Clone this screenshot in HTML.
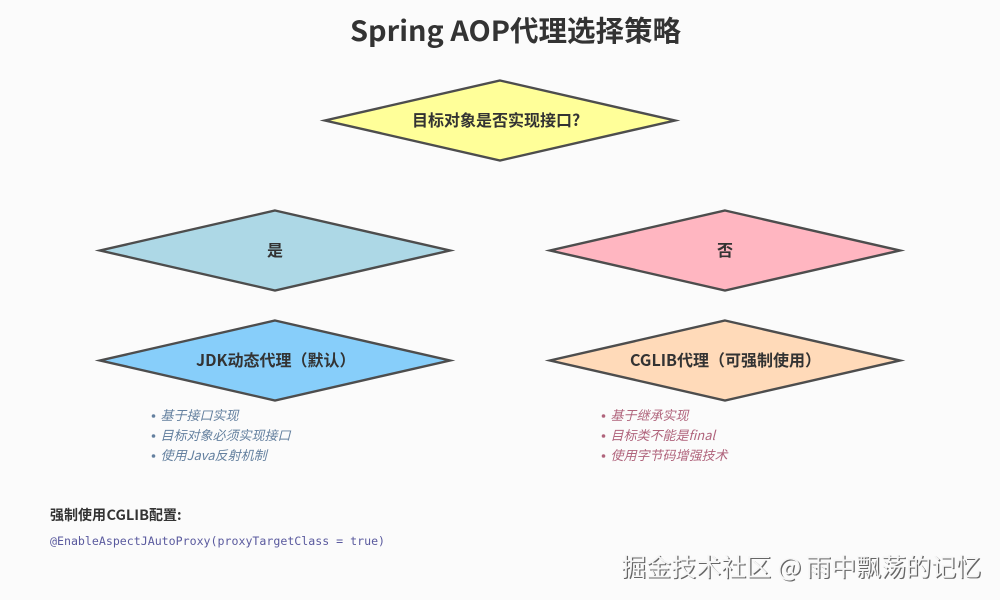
<!DOCTYPE html>
<html lang="zh">
<head>
<meta charset="utf-8">
<style>
html,body{margin:0;padding:0;background:#fbfbfb;}
svg{display:block;}
text{font-family:"Noto Sans CJK SC","Liberation Sans",sans-serif;}
.n{font-size:16px;font-weight:700;fill:#333;}
.l{font-size:13px;font-style:italic;}
.b{fill:#64809f;}.r{fill:#b0647c;}
.d{stroke:#4d4d4d;stroke-width:2.4;stroke-linejoin:miter;stroke-miterlimit:10;}
.wm{font-size:25px;}
</style>
</head>
<body>
<svg width="1000" height="600" viewBox="0 0 1000 600" xmlns="http://www.w3.org/2000/svg">
<rect width="1000" height="600" fill="#fbfbfb"/>
<text x="350" y="41" font-size="28" font-weight="700" fill="#333" textLength="160" lengthAdjust="spacingAndGlyphs">Spring AOP</text>
<text x="510" y="41" font-size="28.5" font-weight="700" fill="#333">代理选择策略</text>

<polygon class="d" points="500,80.5 675,120.5 500,160.5 325,120.5" fill="#ffff99"/>
<text class="n" x="412" y="126">目标对象是否实现接口?</text>

<polygon class="d" points="275,210.5 450,250.5 275,290.5 100,250.5" fill="#add8e6"/>
<text class="n" x="267" y="256">是</text>

<polygon class="d" points="725,210.5 900,250.5 725,290.5 550,250.5" fill="#ffb6c1"/>
<text class="n" x="717" y="256">否</text>

<polygon class="d" points="275,320.5 450,360.5 275,400.5 100,360.5" fill="#87cefa"/>
<text class="n" x="196" y="366">JDK动态代理（默认）</text>

<polygon class="d" points="725,320.5 900,360.5 725,400.5 550,360.5" fill="#ffdab9"/>
<text class="n" x="630" y="366" textLength="47" lengthAdjust="spacingAndGlyphs">CGLIB</text>
<text class="n" x="677" y="366">代理（可强制使用）</text>

<g class="b">
<circle cx="153.5" cy="416" r="1.8"/><text class="l b" x="160.5" y="420">基于接口实现</text>
<circle cx="153.5" cy="436" r="1.8"/><text class="l b" x="160.5" y="440">目标对象必须实现接口</text>
<circle cx="153.5" cy="456" r="1.8"/><text class="l b" x="160.5" y="460">使用Java反射机制</text>
</g>
<g class="r">
<circle cx="603.5" cy="416" r="1.8"/><text class="l r" x="610.5" y="420">基于继承实现</text>
<circle cx="603.5" cy="436" r="1.8"/><text class="l r" x="610.5" y="440">目标类不能是final</text>
<circle cx="603.5" cy="456" r="1.8"/><text class="l r" x="610.5" y="460">使用字节码增强技术</text>
</g>

<text x="50" y="520" font-size="14" font-weight="700" fill="#333">强制使用</text>
<text x="106.5" y="520" font-size="14" font-weight="700" fill="#333" textLength="42.5" lengthAdjust="spacingAndGlyphs">CGLIB</text>
<text x="149" y="520" font-size="14" font-weight="700" fill="#333">配置:</text>
<text x="50" y="545" font-size="11.6" fill="#5a5a9e" style="font-family:'DejaVu Sans Mono','Liberation Mono',monospace">@EnableAspectJAutoProxy(proxyTargetClass = true)</text>

<g class="wm" fill="#666">
<text x="622.2" y="577.2">掘金技术社区</text>
<text x="778.7" y="577.2">@</text>
<text x="807.2" y="577.2">雨中飘荡的记忆</text>
</g>
<g class="wm" fill="#f6f6f6">
<text x="621" y="576">掘金技术社区</text>
<text x="777.5" y="576">@</text>
<text x="806" y="576">雨中飘荡的记忆</text>
</g>
</svg>
</body>
</html>
